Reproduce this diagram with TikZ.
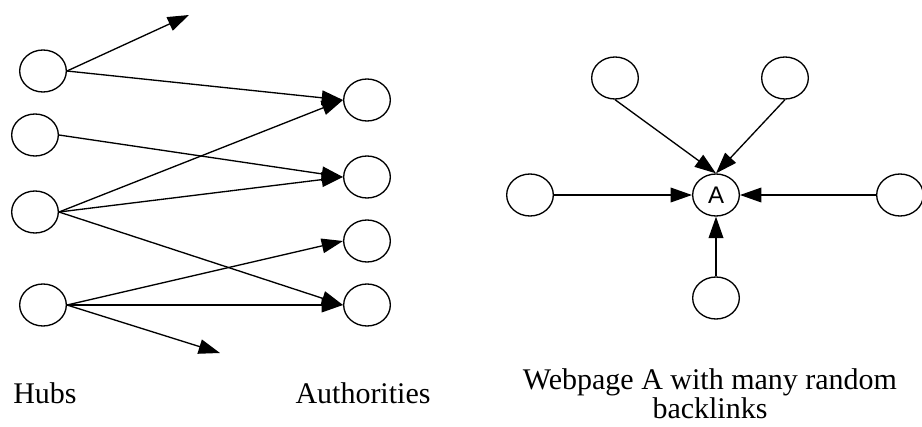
\documentclass[tikz,border=0pt]{standalone}
\usepackage{fontspec}
\usetikzlibrary{shapes.geometric, arrows.meta}
\newfontfamily\lblfont{Liberation Serif}
\newfontfamily\pgfont{Liberation Sans}

\tikzset{
  page/.style={draw, ellipse, line width=1pt, minimum width=35pt, minimum height=31.5pt, inner sep=0pt},
  link/.style={-{Triangle[length=16pt,width=11pt]}, line width=1pt},
  caption/.style={font=\lblfont\fontsize{22.5}{21.75}\selectfont, inner sep=0pt}
}

\begin{document}
\begin{tikzpicture}[x=0.75pt,y=0.75pt,yscale=-1,xscale=1]
\useasboundingbox (0,0) rectangle (922,426);

% Hubs
\node [page] (h1) at (43,71) {};
\node [page] (h2) at (35,135) {};
\node [page] (h3) at (35,212) {};
\node [page] (h4) at (43,305) {};
% Authorities
\node [page] (a1) at (367,100) {};
\node [page] (a2) at (367,177) {};
\node [page] (a3) at (367,241) {};
\node [page] (a4) at (367,305) {};
% free ends
\coordinate (out1) at (189,15);
\coordinate (out2) at (220,353);

\draw [link] (h1.east) -- (out1);
\draw [link] (h1.east) -- (a1.west);
\draw [link] (h2.east) -- (a2.west);
\draw [link] (h3.east) -- (a1.west);
\draw [link] (h3.east) -- (a2.west);
\draw [link] (h3.east) -- (a4.west);
\draw [link] (h4.east) -- (a3.west);
\draw [link] (h4.east) -- (a4.west);
\draw [link] (h4.east) -- (out2);

% Webpage A and its backlinks
\node [page, font=\pgfont\fontsize{18}{20}\selectfont] (pa) at (716,195) {A};
\node [page] (tl) at (615,78) {};
\node [page] (tr) at (785,78) {};
\node [page] (lf) at (530,195) {};
\node [page] (rt) at (900,195) {};
\node [page] (bt) at (716,298) {};

\draw [link] (tl.south) -- (pa.north);
\draw [link] (tr.south) -- (pa.north);
\draw [link] (lf.east) -- (pa.west);
\draw [link] (rt.west) -- (pa.east);
\draw [link] (bt.north) -- (pa.south);

% Text Node
\node [caption, anchor=base] (hubs) at (45,403) {Hubs};
% Text Node
\node [caption, anchor=base] (auth) at (363,403) {Authorities};
% Text Node
\node [caption, align=center, anchor=north] (desc) at (710,368) {Webpage A with many random\\backlinks};

\end{tikzpicture}
\end{document}
